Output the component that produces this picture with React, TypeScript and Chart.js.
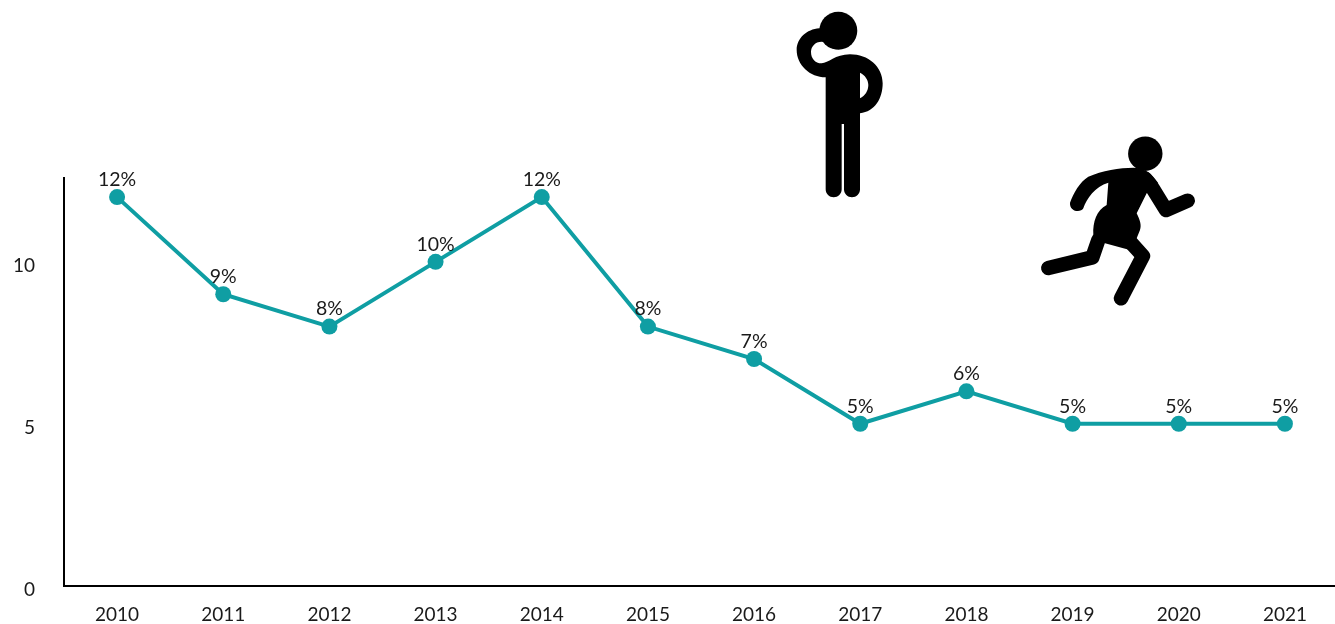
import React, { useEffect, useRef } from "react";
import { Chart, registerables } from "chart.js";

Chart.register(...registerables);

const years = ["2010", "2011", "2012", "2013", "2014", "2015", "2016", "2017", "2018", "2019", "2020", "2021"];
const shares = [12, 9, 8, 10, 12, 8, 7, 5, 6, 5, 5, 5];
const yTicks = [0, 5, 10];

const TEAL = "#0f9ea3";
const FONT = "Lato, Carlito, sans-serif";

function toPath(d: string, ox: number, oy: number) {
  // Icon outlines are written in 3x crop units and placed at (ox, oy).
  return new Path2D(
    d.replace(/(-?[\d.]+),(-?[\d.]+)/g, (_m, x, y) => `${(ox + Number(x) / 3).toFixed(2)} ${(oy + Number(y) / 3).toFixed(2)}`)
  );
}

function drawThinker(ctx: CanvasRenderingContext2D) {
  const ox = 780;
  const oy = 0;
  ctx.beginPath();
  ctx.arc(838.3, 30.7, 19, 0, Math.PI * 2);
  ctx.fill();
  ctx.fill(
    toPath(
      "M137,232 L137,568 C137,582 148,592 161,592 C174,592 185,582 185,568 L185,372 L192,372 L192,568 C192,582 203,592 216,592 C229,592 240,582 240,568 L240,340 C285,335 308,295 308,250 C308,200 265,163 210,163 C165,163 145,190 125,190 C105,190 93,175 93,155 C93,140 105,125 125,125 C140,125 150,148 170,148 L175,92 L118,85 C80,88 50,115 50,150 C50,195 90,232 137,232 Z M240,218 C255,225 265,240 265,255 C265,272 255,288 240,295 Z",
      ox,
      oy
    ),
    "evenodd"
  );
}

function drawRunner(ctx: CanvasRenderingContext2D) {
  const ox = 1030;
  const oy = 130;
  ctx.beginPath();
  ctx.arc(1145.3, 153.7, 17.2, 0, Math.PI * 2);
  ctx.fill();
  ctx.lineCap = "round";
  ctx.lineJoin = "round";
  ctx.fill(
    toPath(
      "M175,140 C215,122 270,113 310,113 C340,113 365,128 385,160 L350,190 L320,250 C330,270 335,285 330,300 L320,325 L300,360 L280,355 L225,340 L190,315 C188,275 200,240 230,225 L235,158 C195,170 170,205 160,235 C152,250 118,245 120,218 C130,190 150,155 175,140 Z",
      ox,
      oy
    )
  );
  ctx.lineWidth = 14.5;
  ctx.stroke(toPath("M345,145 L368,175 L408,240 L473,212", ox, oy));
  ctx.stroke(toPath("M205,330 L187,382 L55,414", ox, oy));
  ctx.stroke(toPath("M300,335 L339,378 L273,505", ox, oy));
  ctx.lineCap = "butt";
  ctx.lineJoin = "miter";
}

const decorations = {
  id: "decorations",
  afterDatasetsDraw(chart: Chart) {
    const { ctx } = chart;
    const meta = chart.getDatasetMeta(0);
    ctx.save();
    ctx.font = `19.5px ${FONT}`;
    ctx.fillStyle = "#1a1a1a";
    ctx.textAlign = "center";
    ctx.textBaseline = "middle";
    meta.data.forEach((pt, i) => {
      ctx.fillText(`${shares[i]}%`, pt.x, pt.y - 17.5);
    });
    ctx.fillStyle = "#000";
    ctx.strokeStyle = "#000";
    drawThinker(ctx);
    drawRunner(ctx);
    ctx.restore();
  },
};

export default function App() {
  const ref = useRef<HTMLCanvasElement>(null);
  useEffect(() => {
    if (!ref.current) return;
    const chart = new Chart(ref.current, {
      type: "line",
      data: {
        labels: years,
        datasets: [
          {
            data: shares,
            borderColor: TEAL,
            backgroundColor: TEAL,
            borderWidth: 4,
            pointRadius: 8,
            pointHoverRadius: 8,
            pointBackgroundColor: TEAL,
            pointBorderWidth: 0,
            tension: 0,
            clip: false,
          },
        ],
      },
      options: {
        responsive: false,
        animation: false,
        layout: { autoPadding: false, padding: { top: 178, left: 0, right: 0, bottom: 0 } },
        plugins: { legend: { display: false }, tooltip: { enabled: false } },
        scales: {
          x: {
            type: "category",
            offset: true,
            grid: { display: false, drawTicks: false },
            border: { display: true, color: "#000", width: 2 },
            ticks: { color: "#1a1a1a", font: { family: FONT, size: 19 }, padding: 18, maxRotation: 0, autoSkip: false },
            afterFit: (s: any) => { s.height = 38; },
          },
          y: {
            min: 0,
            max: 12.59,
            grid: { display: false, drawTicks: false },
            border: { display: true, color: "#000", width: 2 },
            afterBuildTicks: (s: any) => { s.ticks = yTicks.map((value) => ({ value })); },
            ticks: { color: "#1a1a1a", font: { family: FONT, size: 19 }, padding: 29, labelOffset: 4 },
            afterFit: (s: any) => { s.width = 64; },
          },
        },
      },
      plugins: [decorations],
    });
    return () => chart.destroy();
  }, []);
  return (
    <div style={{ position: "fixed", left: 0, top: 0, width: 1335, height: 624, overflow: "hidden", background: "#fff" }}>
      <canvas ref={ref} width={1338} height={626} style={{ display: "block" }} />
    </div>
  );
}
